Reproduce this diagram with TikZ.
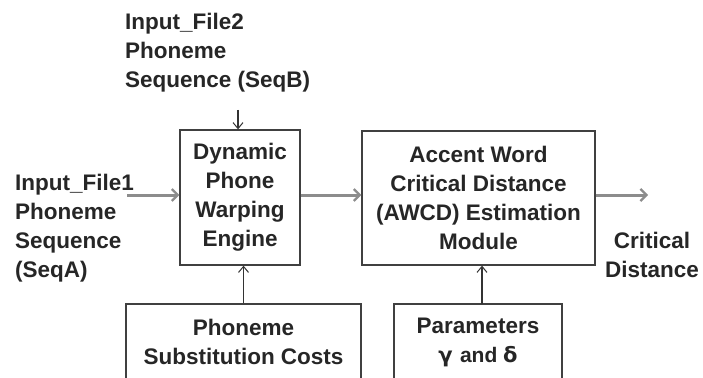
\documentclass[tikz,border=0pt]{standalone}
\usepackage{fontspec}
\setmainfont{Liberation Sans}
\usetikzlibrary{arrows.meta}
\tikzset{
  txt/.style={font=\bfseries\fontsize{22.5}{29}\selectfont, text=black!85, inner sep=0pt},
  blockbox/.style={txt, draw=black!75, line width=1.3pt, align=center},
  garrow/.style={draw=black!45, line width=3pt, -{Straight Barb[length=6pt,width=12pt,line width=2.2pt]}},
  tarrow/.style={draw=black!80, line width=1.1pt, -{Straight Barb[length=6pt,width=10pt,line width=1pt]}}
}
\begin{document}
\begin{tikzpicture}[x=1pt,y=-1pt]
\useasboundingbox (0,0) rectangle (703,377);
\clip (0,0) rectangle (703,377);
\fill[white] (0,0) rectangle (703,377);

\node[blockbox, minimum width=120pt, minimum height=135pt] (dpw) at (240,197.5)
  {Dynamic\\Phone\\Warping\\Engine};
\node[blockbox, minimum width=233pt, minimum height=134pt] (awcd) at (478.5,198)
  {Accent Word\\Critical Distance\\(AWCD)\ Estimation\\Module};
\node[blockbox, minimum width=235pt, minimum height=76pt] (psc) at (243.5,342)
  {Phoneme\\Substitution Costs};
\node[blockbox, minimum width=168pt, minimum height=76pt] (par) at (478,342)
  {Parameters\\\fontspec{DejaVu Sans}\fontsize{21}{29}\selectfont γ\ \fontspec{Liberation Sans}\bfseries and\ \fontspec{DejaVu Sans}\fontsize{21}{29}\selectfont δ};

\node[txt, align=left, anchor=west] (in1) at (15,228)
  {Input\_File1\\Phoneme\\Sequence\\(SeqA)};
\node[txt, align=left, anchor=west] (in2) at (125,53)
  {Input\_File2\\Phoneme\\Sequence (SeqB)};
\node[txt, align=center] (crit) at (652,255)
  {Critical\\Distance};

\coordinate (a1) at (127,195);
\coordinate (a2) at (238,110);
\coordinate (a3) at (648,195);

\draw[garrow] (a1) -- (a1 -| dpw.west);
\draw[garrow] (a1 -| dpw.east) -- (a1 -| awcd.west);
\draw[garrow] (a1 -| awcd.east) -- (a3);
\draw[tarrow] (a2) -- (a2 |- dpw.north);
\draw[tarrow] (psc.north) -- (psc.north |- dpw.south);
\draw[tarrow] (482,304) coordinate (pn) -- (pn |- awcd.south);
\end{tikzpicture}
\end{document}
